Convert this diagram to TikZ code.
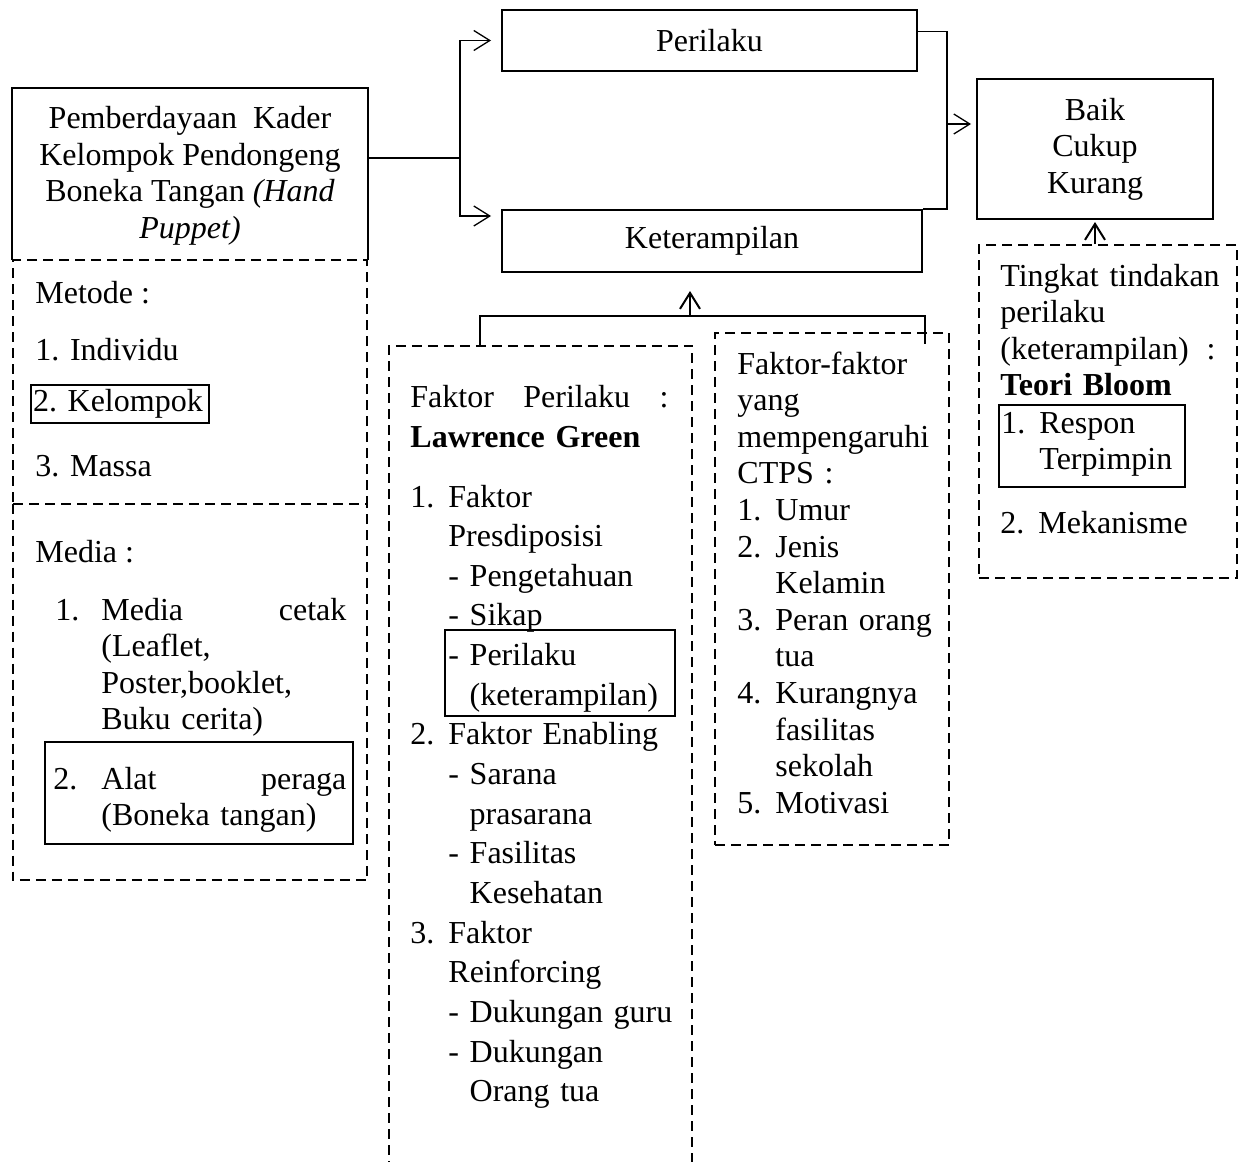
\documentclass[tikz,border=0pt]{standalone}
\usepackage{fontspec}
\setmainfont{Liberation Serif}
\usetikzlibrary{arrows.meta}

\newcommand{\itemno}[1]{\makebox[19pt][l]{#1}}

\tikzset{
  solidbox/.style={draw, line width=1pt, inner sep=0pt, align=center},
  thinbox/.style={draw, line width=0.6pt, inner sep=0pt},
  dashbox/.style={draw, line width=1pt, dash pattern=on 5pt off 3pt, inner sep=0pt},
  dashes/.style={line width=1pt, dash pattern=on 5pt off 3pt},
  txt/.style={inner sep=0pt, anchor=base west, align=left},
  link/.style={line width=0.65pt},
  arr/.style={link, -{Straight Barb[length=8pt,width=10pt]}},
}

\begin{document}
\begin{tikzpicture}[x=0.5pt, y=-0.5pt, font=\fontsize{16pt}{18.3pt}\selectfont]
\useasboundingbox (0,0) rectangle (1246,1161);

% left column
\node[solidbox, draw=none, minimum width=177pt, minimum height=86pt] (kader) at (190,176)
  {Pemberdayaan\ \ Kader\\Kelompok Pendongeng\\Boneka Tangan \textit{(Hand}\\\textit{Puppet)}};
\draw[line width=1pt] (kader.south west |- 0,260) |- (kader.north east |- 0,88) -- (kader.south east |- 0,260);

\node[dashbox, minimum width=177pt, minimum height=122pt] (metode) at (190,382) {};
\node[inner sep=0pt, minimum width=177pt, minimum height=188pt] (media) at (190,692) {};
\draw[dashes] (media.north west) |- (media.south east) -- (media.north east);

\node[txt] (metodehead) at (35,303) {Metode :};
\node[txt] (individu) at (35,360) {1. Individu};
\node[thinbox, minimum width=89pt, minimum height=19pt] (kelompok) at (120,404)
  {\makebox[87pt][l]{2. Kelompok}};
\node[txt] (massa) at (35,476) {3. Massa};

\node[txt] (mediahead) at (35,562) {Media :};
\node[txt] (cetakno) at (55,620) {1.};
\node[txt, text width=122.5pt] (cetak) at (101,620) {Media\hfill cetak\\(Leaflet,\\Poster,booklet,\\Buku cerita)};
\node[thinbox, minimum width=154pt, minimum height=51pt] (peragabox) at (199,793) {};
\node[txt] (peragano) at (53,789) {2.};
\node[txt, text width=122.5pt] (peraga) at (101,789) {Alat\hfill peraga\\(Boneka tangan)};

% top row
\node[solidbox, minimum width=207.5pt, minimum height=30.5pt] (perilaku) at (709.5,40.5) {Perilaku};
\node[solidbox, minimum width=210pt, minimum height=31pt] (ketr) at (712,241) {Keterampilan};
\node[solidbox, minimum width=118pt, minimum height=70pt] (baik) at (1095,149) {Baik\\Cukup\\Kurang};

% Lawrence Green
\node[inner sep=0pt, minimum width=151.5pt, minimum height=420pt, anchor=north] (lawrence) at (540.5,346) {};
\draw[dashes] (lawrence.south west) |- (lawrence.north east) -- (lawrence.south east);
\node[thinbox, minimum width=115pt, minimum height=43pt] (perbox) at (560,673) {};
\node[txt, text width=129pt, font=\fontsize{16pt}{20pt}\selectfont] (greenhead) at (410,407)
  {Faktor\hfill Perilaku\hfill:\\\textbf{Lawrence Green}};
\node[txt, text width=140pt, font=\fontsize{16pt}{19.83pt}\selectfont] (greenlist) at (410,507)
  {\itemno{1.}Faktor\\
   \hspace*{19pt}Presdiposisi\\
   \hspace*{19pt}- Pengetahuan\\
   \hspace*{19pt}- Sikap\\
   \hspace*{19pt}- Perilaku\\
   \hspace*{19pt}\hphantom{-\ }(keterampilan)\\
   \itemno{2.}Faktor Enabling\\
   \hspace*{19pt}- Sarana\\
   \hspace*{19pt}\hphantom{-\ }prasarana\\
   \hspace*{19pt}- Fasilitas\\
   \hspace*{19pt}\hphantom{-\ }Kesehatan\\
   \itemno{3.}Faktor\\
   \hspace*{19pt}Reinforcing\\
   \hspace*{19pt}- Dukungan guru\\
   \hspace*{19pt}- Dukungan\\
   \hspace*{19pt}\hphantom{-\ }Orang tua};

% CTPS
\node[dashbox, minimum width=117pt, minimum height=256pt] (ctps) at (832,589) {};
\node[txt, text width=104pt] (ctpstxt) at (737,374)
  {Faktor-faktor\\yang\\mempengaruhi\\CTPS :\\
   \itemno{1.}Umur\\
   \itemno{2.}Jenis\\\hspace*{19pt}Kelamin\\
   \itemno{3.}Peran orang\\\hspace*{19pt}tua\\
   \itemno{4.}Kurangnya\\\hspace*{19pt}fasilitas\\\hspace*{19pt}sekolah\\
   \itemno{5.}Motivasi};

% Bloom
\node[dashbox, minimum width=129pt, minimum height=166.5pt] (tingkat) at (1108,411.5) {};
\node[txt, text width=115pt] (tingkattxt) at (1000,286)
  {Tingkat tindakan\\perilaku\\\makebox[107.5pt][l]{(keterampilan)\hfill:}\\\textbf{Teori Bloom}};
\node[thinbox, minimum width=93pt, minimum height=41pt] (responbox) at (1092,446) {};
\node[txt, text width=92pt] (respon) at (1001,433) {\itemno{1.}Respon\\\hspace*{19pt}Terpimpin};
\node[txt] (mekanisme) at (1000,533) {\itemno{2.}Mekanisme};

% connectors
\coordinate (split) at (460,158);
\draw[link] (kader.east |- split) -- (split);
\draw[arr, shorten >=5pt] (split) |- (perilaku.west);
\draw[arr, shorten >=5pt] (split) |- ([yshift=-3.5pt]ketr.north west);

\coordinate (merge) at (947,124);
\draw[link] ([yshift=4.5pt]perilaku.east) -| (merge) |- (ketr.north east);
\draw[arr, shorten >=2.5pt] (merge) -- (merge -| baik.west);

\coordinate (join) at (690,316);
\coordinate (jl) at (480,316);
\coordinate (jr) at (925,316);
\draw[line width=1pt] (lawrence.north -| jl) |- (jr) -- (jr |- ctps.north) -- ++(0,12);
\draw[arr, line width=1pt, shorten >=9pt] (join) -- (join |- ketr.south);
\draw[arr, line width=1pt, shorten >=1pt] (baik.south |- tingkat.north) -- (baik.south);

\end{tikzpicture}
\end{document}
